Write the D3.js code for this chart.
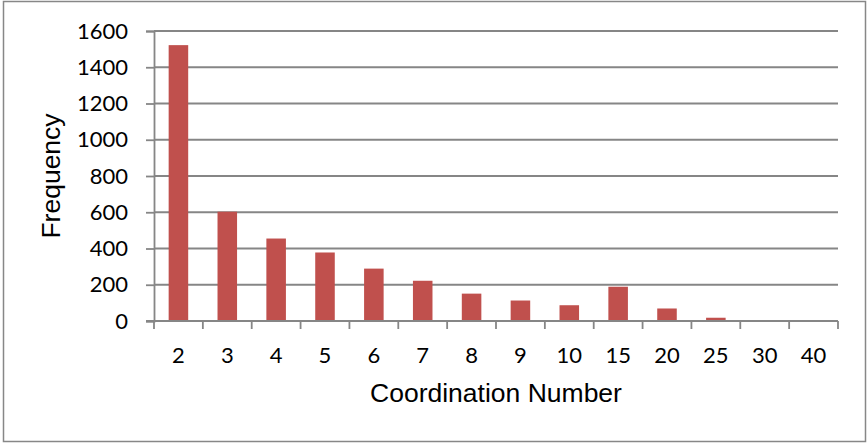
<!DOCTYPE html>
<html>
<head>
<meta charset="utf-8">
<script src="https://cdn.jsdelivr.net/npm/d3@7/dist/d3.min.js"></script>
<style>
  html, body { margin: 0; padding: 0; background: #fff; }
  svg { display: block; }
</style>
</head>
<body>
<script>
// Coordination number distribution
const categories = ["2", "3", "4", "5", "6", "7", "8", "9", "10", "15", "20", "25", "30", "40"];
const frequencies = [1522, 603, 455, 378, 289, 222, 151, 113, 87, 189, 69, 18, 0, 4];
const yTicks = [0, 200, 400, 600, 800, 1000, 1200, 1400, 1600];

const W = 867, H = 445;
const plot = { left: 154, right: 838, top: 31, bottom: 321 };

const svg = d3.select("body").append("svg")
  .attr("width", W).attr("height", H);

// outer frame
svg.append("rect")
  .attr("x", 3.5).attr("y", 1.5)
  .attr("width", 862).attr("height", 440)
  .attr("fill", "#fff").attr("stroke", "#878787").attr("stroke-width", 1.5);

const x = d3.scaleBand()
  .domain(categories)
  .range([plot.left, plot.right])
  .paddingInner(0.6)
  .paddingOuter(0.3);

const y = d3.scaleLinear()
  .domain([0, 1600])
  .range([plot.bottom, plot.top]);

// horizontal gridlines
svg.append("g")
  .selectAll("line")
  .data(yTicks.filter(d => d > 0))
  .join("line")
  .attr("x1", plot.left).attr("x2", plot.right)
  .attr("y1", d => y(d)).attr("y2", d => y(d))
  .attr("stroke", "#868686").attr("stroke-width", 1.8);

// bars
svg.append("g")
  .selectAll("rect")
  .data(categories.map((c, i) => ({ c, v: frequencies[i] })))
  .join("rect")
  .attr("x", d => x(d.c))
  .attr("width", x.bandwidth())
  .attr("y", d => y(d.v))
  .attr("height", d => y(0) - y(d.v))
  .attr("fill", "#C0504D");

// y axis
const yAxis = d3.axisLeft(y)
  .tickValues(yTicks)
  .tickSize(8)
  .tickPadding(18)
  .tickFormat(d3.format("d"));

const gy = svg.append("g")
  .attr("transform", `translate(${plot.left},0)`)
  .call(yAxis);
gy.select(".domain").attr("stroke", "#868686").attr("stroke-width", 1.8);
gy.selectAll(".tick line").attr("stroke", "#868686").attr("stroke-width", 1.8);
gy.selectAll(".tick text")
  .attr("font-family", "Lato, 'Open Sans', sans-serif")
  .attr("font-size", 22)
  .attr("fill", "#000");

// x axis: ticks on band boundaries
const xAxisLine = svg.append("g");
xAxisLine.append("line")
  .attr("x1", plot.left - 8).attr("x2", plot.right)
  .attr("y1", plot.bottom).attr("y2", plot.bottom)
  .attr("stroke", "#868686").attr("stroke-width", 1.8);

const boundaries = d3.range(categories.length + 1).map(i => plot.left + i * (plot.right - plot.left) / categories.length);
xAxisLine.selectAll("line.tk")
  .data(boundaries)
  .join("line")
  .attr("class", "tk")
  .attr("x1", d => d).attr("x2", d => d)
  .attr("y1", plot.bottom).attr("y2", plot.bottom + 8)
  .attr("stroke", "#868686").attr("stroke-width", 1.8);

svg.append("g")
  .selectAll("text")
  .data(categories)
  .join("text")
  .attr("x", d => x(d) + x.bandwidth() / 2)
  .attr("y", 363)
  .attr("text-anchor", "middle")
  .attr("font-family", "Lato, 'Open Sans', sans-serif")
  .attr("font-size", 22)
  .attr("fill", "#000")
  .text(d => d);

// axis titles
svg.append("text")
  .attr("x", (plot.left + plot.right) / 2)
  .attr("y", 402)
  .attr("text-anchor", "middle")
  .attr("font-family", "'Liberation Sans', Arial, sans-serif")
  .attr("font-size", 26.5)
  .attr("fill", "#000")
  .text("Coordination Number");

svg.append("text")
  .attr("transform", `translate(60,${(plot.top + plot.bottom) / 2}) rotate(-90)`)
  .attr("text-anchor", "middle")
  .attr("font-family", "'Liberation Sans', Arial, sans-serif")
  .attr("font-size", 26.5)
  .attr("fill", "#000")
  .text("Frequency");
</script>
</body>
</html>
